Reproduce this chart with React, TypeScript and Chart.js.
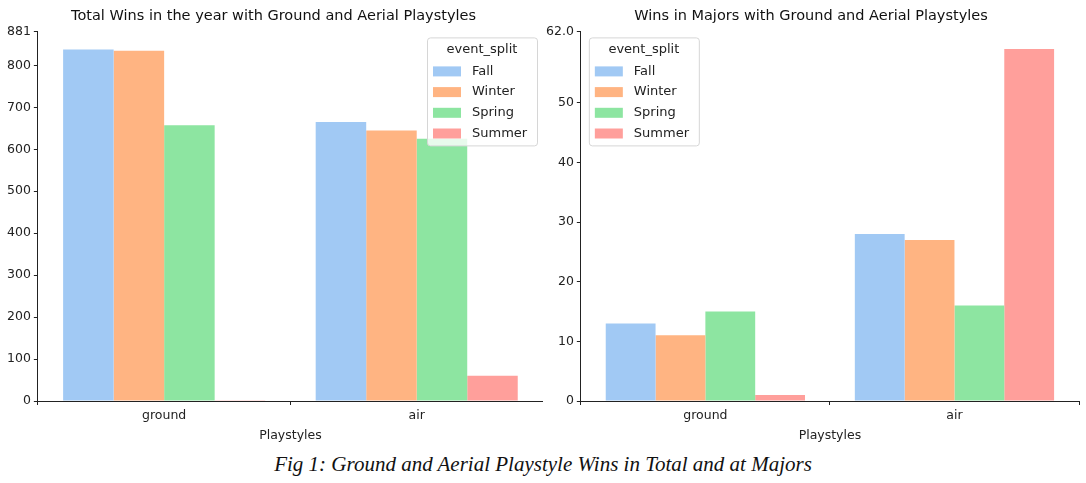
import React, { useEffect, useRef } from "react";
import { Chart, registerables } from "chart.js";
Chart.register(...registerables);

const categories = ["ground", "air"];
const seasons = ["Fall", "Winter", "Spring", "Summer"];
const colors = ["#a1c9f4", "#ffb482", "#8de5a1", "#ff9f9b"];
const totalFall = [838, 665];
const totalWinter = [835, 645];
const totalSpring = [657, 625];
const totalSummer = [2, 60];
const majorFall = [13, 28];
const majorWinter = [11, 27];
const majorSpring = [15, 16];
const majorSummer = [1, 59];

const FONT = "DejaVu Sans";

const legendPlugin = {
  id: "boxLegend",
  afterDraw(chart: any, _a: any, opts: any) {
    const ctx = chart.ctx;
    const ca = chart.chartArea;
    const w = 110, h = 108;
    const x = opts.side === "right" ? ca.right - w - 6 : ca.left + 8;
    const y = ca.top + 6;
    ctx.save();
    ctx.fillStyle = "rgba(255,255,255,0.8)";
    ctx.strokeStyle = "#d6d6d6";
    ctx.lineWidth = 1;
    ctx.beginPath();
    ctx.roundRect(x + 0.5, y + 0.5, w, h, 3);
    ctx.fill();
    ctx.stroke();
    ctx.font = `13px ${FONT}`;
    ctx.fillStyle = "#222";
    ctx.textAlign = "center";
    ctx.textBaseline = "middle";
    ctx.fillText("event_split", x + w / 2, y + 12);
    ctx.textAlign = "left";
    seasons.forEach((s, i) => {
      const yy = y + 34 + i * 20.7;
      ctx.fillStyle = colors[i];
      ctx.fillRect(x + 6, yy - 5, 28, 10);
      ctx.fillStyle = "#222";
      ctx.fillText(s, x + 45, yy);
    });
    ctx.restore();
  },
};

function makeChart(canvas: HTMLCanvasElement, title: string, data: number[][], max: number, step: number, side: string, pad: any) {
  return new Chart(canvas, {
    type: "bar",
    data: {
      labels: categories,
      datasets: seasons.map((s, i) => ({
        label: s,
        data: data[i],
        backgroundColor: colors[i],
        categoryPercentage: 0.8,
        barPercentage: 1,
      })),
    },
    plugins: [legendPlugin],
    options: {
      animation: false,
      responsive: false,
      layout: { padding: pad },
      plugins: {
        legend: { display: false },
        tooltip: { enabled: false },
        title: { display: true, text: title, color: "#111", font: { family: FONT, size: 14.5, weight: "normal" }, padding: { top: 0, bottom: 6 } },
        boxLegend: { side },
      } as any,
      scales: {
        x: {
          border: { color: "#222" },
          grid: { display: true, drawOnChartArea: false, tickLength: 4, color: "#222" },
          ticks: { color: "#222", font: { family: FONT, size: 12.5 } },
          title: { display: true, text: "Playstyles", color: "#222", font: { family: FONT, size: 12.5 }, padding: 2 },
        },
        y: {
          min: 0, max,
          border: { color: "#222" },
          grid: { display: true, drawOnChartArea: false, tickLength: 4, color: "#222" },
          ticks: { stepSize: step, color: "#222", font: { family: FONT, size: 12.5 } },
        },
        x2: undefined as any,
      },
    } as any,
  });
}

export default function App() {
  const r1 = useRef<HTMLCanvasElement>(null);
  const r2 = useRef<HTMLCanvasElement>(null);
  useEffect(() => {
    const c1 = makeChart(r1.current!, "Total Wins in the year with Ground and Aerial Playstyles",
      [totalFall, totalWinter, totalSpring, totalSummer], 881, 100, "right", { left: 4, right: 0, top: 8, bottom: 0 });
    const c2 = makeChart(r2.current!, "Wins in Majors with Ground and Aerial Playstyles",
      [majorFall, majorWinter, majorSpring, majorSummer], 61.95, 10, "left", { left: 0, right: 7, top: 8, bottom: 0 });
    return () => { c1.destroy(); c2.destroy(); };
  }, []);
  return (
    <div style={{ position: "absolute", left: 0, top: 0, width: 1086, height: 483, background: "#fff" }}>
      <canvas ref={r1} width={543} height={445} style={{ position: "absolute", left: 0, top: 0 }} />
      <canvas ref={r2} width={543} height={445} style={{ position: "absolute", left: 543, top: 0 }} />
      <div style={{ position: "absolute", left: 0, width: 1086, top: 452, textAlign: "center", fontFamily: "Liberation Serif", fontStyle: "italic", fontSize: 21, color: "#111" }}>
        Fig 1: Ground and Aerial Playstyle Wins in Total and at Majors
      </div>
    </div>
  );
}
